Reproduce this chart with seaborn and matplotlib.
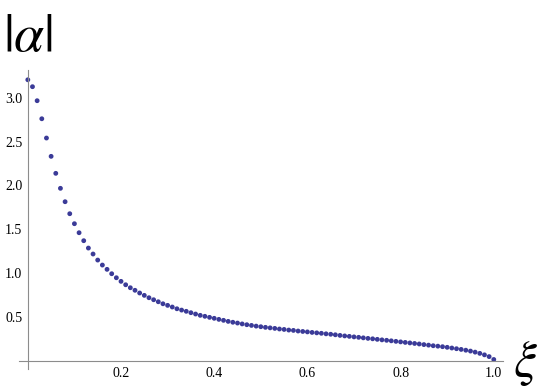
import numpy as np
import pandas as pd
import matplotlib
matplotlib.use("Agg")
import matplotlib.pyplot as plt
import seaborn as sns

# xi sampled every 0.01 from 0 to 1
xi = [round(0.01 * i, 2) for i in range(101)]
alpha_abs = [
    3.205, 3.126, 2.966, 2.760, 2.540, 2.331, 2.137, 1.966, 1.813, 1.676,
    1.562, 1.459, 1.368, 1.284, 1.216, 1.147, 1.090, 1.041, 0.991, 0.945,
    0.904, 0.865, 0.831, 0.802, 0.771, 0.744, 0.717, 0.694, 0.671, 0.648,
    0.630, 0.611, 0.591, 0.576, 0.562, 0.546, 0.531, 0.516, 0.505, 0.493,
    0.482, 0.470, 0.459, 0.447, 0.437, 0.428, 0.418, 0.409, 0.401, 0.393,
    0.386, 0.379, 0.373, 0.367, 0.360, 0.355, 0.348, 0.344, 0.337, 0.332,
    0.327, 0.321, 0.316, 0.311, 0.305, 0.300, 0.294, 0.287, 0.281, 0.276,
    0.270, 0.265, 0.259, 0.253, 0.248, 0.242, 0.236, 0.231, 0.225, 0.219,
    0.213, 0.207, 0.201, 0.195, 0.189, 0.182, 0.176, 0.169, 0.164, 0.158,
    0.151, 0.143, 0.135, 0.127, 0.118, 0.108, 0.096, 0.082, 0.065, 0.045,
    0.012,
]
x_major = [0.2, 0.4, 0.6, 0.8, 1.0]
x_major_labels = ["0.2", "0.4", "0.6", "0.8", "1.0"]
y_major = [0.5, 1.0, 1.5, 2.0, 2.5, 3.0]
y_major_labels = ["0.5", "1.0", "1.5", "2.0", "2.5", "3.0"]

df = pd.DataFrame({"xi": xi, "alpha": alpha_abs})

sns.set_style("white")
plt.rcParams["font.family"] = ["Liberation Serif", "DejaVu Serif"]
plt.rcParams["mathtext.fontset"] = "stix"
plt.rcParams["text.color"] = "black"

fig = plt.figure(figsize=(5.42, 3.92), dpi=100)
ax = fig.add_axes([18.5 / 542, 22.7 / 392, 484.6 / 542, 299.6 / 392])

sns.scatterplot(data=df, x="xi", y="alpha", ax=ax, color="#3b3b98",
                s=12, linewidth=0, edgecolor="none")

ax.set_xlim(-0.02, 1.02)
ax.set_ylim(-0.1, 3.32)

axis_col = "#8c8c8c"
for side in ["top", "right"]:
    ax.spines[side].set_visible(False)
ax.spines["left"].set_position(("data", 0))
ax.spines["bottom"].set_position(("data", 0))
for side in ["left", "bottom"]:
    ax.spines[side].set_color(axis_col)
    ax.spines[side].set_linewidth(0.8)

ax.set_xticks(x_major)
ax.set_xticklabels(x_major_labels)
ax.set_yticks(y_major)
ax.set_yticklabels(y_major_labels)
x_minor = [v / 100 for v in range(5, 100, 5) if v % 20 != 0]
y_minor = [v / 10 for v in range(1, 34) if v % 5 != 0]
ax.set_xticks(x_minor, minor=True)
ax.set_yticks(y_minor, minor=True)

ax.tick_params(axis="both", which="major", direction="in", length=5,
               width=0.7, color=axis_col, labelsize=10, labelcolor="black")
ax.tick_params(axis="both", which="minor", direction="in", length=3,
               width=0.6, color=axis_col)
ax.tick_params(axis="x", which="major", pad=5)
ax.tick_params(axis="y", which="major", pad=4)
ax.set_xlabel("")
ax.set_ylabel("")

fig.text(28 / 542, 1 - 38 / 392, r"$\vert\alpha\vert$", fontsize=39,
         ha="center", va="center", color="black")
fig.text(525 / 542, 1 - 363 / 392, r"$\xi$", fontsize=37,
         ha="center", va="center", color="black")

fig.savefig("out.png", dpi=100)
